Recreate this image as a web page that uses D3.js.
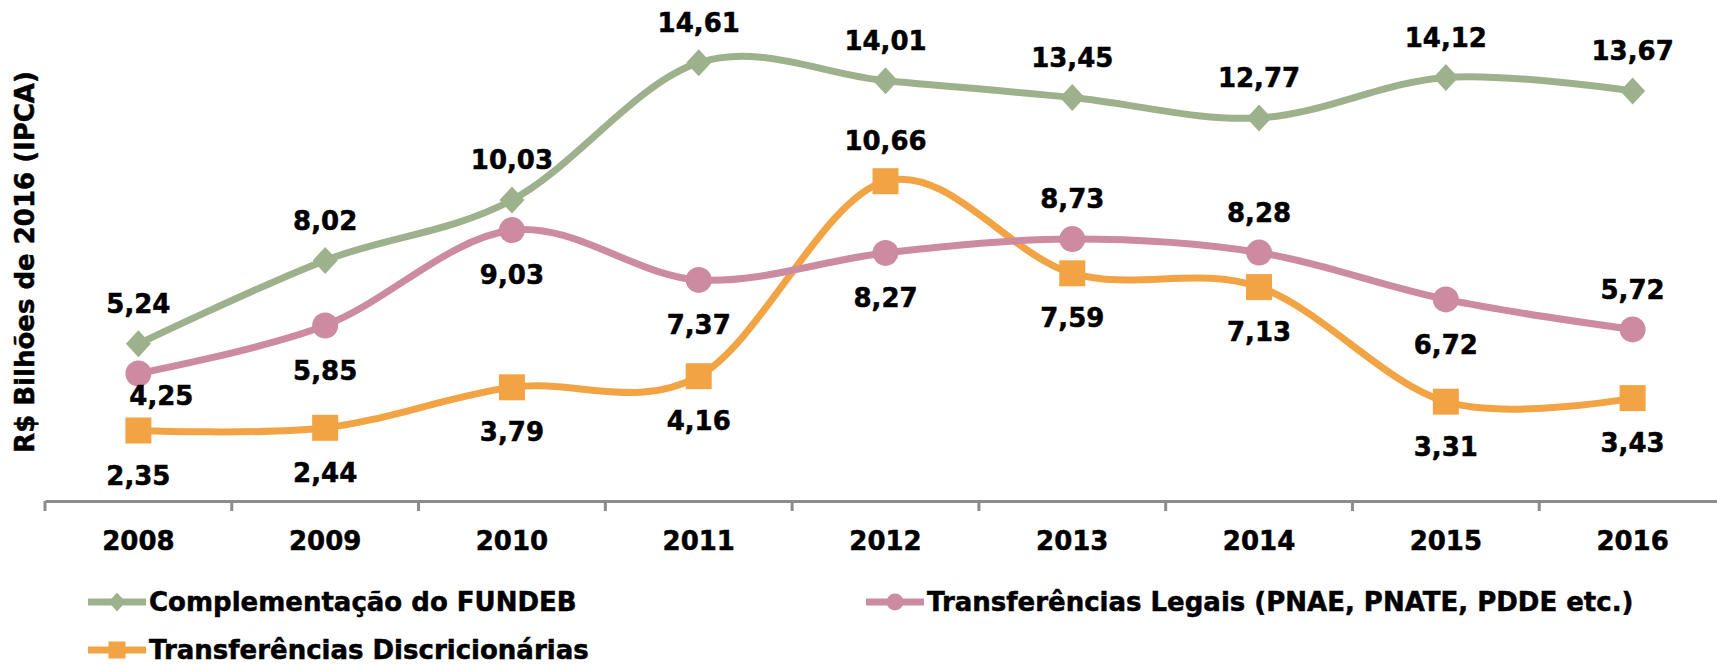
<!DOCTYPE html>
<html>
<head>
<meta charset="utf-8">
<script src="https://cdn.jsdelivr.net/npm/d3@7"></script>
<style>
  body { margin: 0; background: #fff; }
  text { font-family: "DejaVu Sans", sans-serif; font-weight: bold; stroke: #000; stroke-width: 0.5px; }
</style>
</head>
<body>
<div id="chart"></div>
<script>
// data
var years = ["2008", "2009", "2010", "2011", "2012", "2013", "2014", "2015", "2016"];
var fundeb = [5.24, 8.02, 10.03, 14.61, 14.01, 13.45, 12.77, 14.12, 13.67];
var legais = [4.25, 5.85, 9.03, 7.37, 8.27, 8.73, 8.28, 6.72, 5.72];
var discricionarias = [2.35, 2.44, 3.79, 4.16, 10.66, 7.59, 7.13, 3.31, 3.43];
var seriesNames = ["Complementação do FUNDEB", "Transferências Legais (PNAE, PNATE, PDDE etc.)", "Transferências Discricionárias"];
var yTitle = "R$ Bilhões de 2016 (IPCA)";

// where each data label sits (a = above, b = below)
var fundebPos = ["a", "a", "a", "a", "a", "a", "a", "a", "a"];
var legaisPos = ["b", "b", "b", "b", "b", "a", "a", "b", "a"];
var discPos = ["b", "b", "b", "b", "a", "b", "b", "b", "b"];

var W = 1717, H = 665;

var svg = d3.select("#chart")
    .append("svg")
    .attr("width", W)
    .attr("height", H);

var x = d3.scaleBand()
    .domain(years)
    .range([45, 1726]);

var y = d3.scaleLinear()
    .domain([0, 16])
    .range([501, 21]);

var fmt = d3.formatLocale({ decimal: ",", thousands: ".", grouping: [3], currency: ["R$", ""] }).format(".2f");

// x axis (ticks between categories, like excel)
var axis = svg.append("g")
    .attr("transform", "translate(0," + y(0) + ")")
    .call(d3.axisBottom(x).tickSize(0).tickPadding(30));
axis.select(".domain").attr("stroke", "#8c8c8c").attr("stroke-width", 3);
axis.selectAll("text")
    .attr("font-size", "26px")
    .attr("font-family", "DejaVu Sans")
    .attr("font-weight", "bold")
    .attr("fill", "#000")
    .attr("dy", "0.35em")
    .attr("y", 40);

var bounds = years.map(function (d) { return x(d); }).concat([x.range()[1]]);
svg.append("g")
    .selectAll("line")
    .data(bounds)
    .enter().append("line")
    .attr("x1", function (d) { return d; })
    .attr("x2", function (d) { return d; })
    .attr("y1", y(0))
    .attr("y2", y(0) + 10)
    .attr("stroke", "#8c8c8c")
    .attr("stroke-width", 3);

// y title
svg.append("text")
    .attr("transform", "translate(34,262) rotate(-90)")
    .attr("text-anchor", "middle")
    .attr("font-size", "26px")
    .text(yTitle);

var series = [
    { name: seriesNames[0], values: fundeb, pos: fundebPos, color: "#9db28c", shape: "diamond" },
    { name: seriesNames[1], values: legais, pos: legaisPos, color: "#cc8ba0", shape: "circle" },
    { name: seriesNames[2], values: discricionarias, pos: discPos, color: "#f2a444", shape: "square" }
];

var cx = function (i) { return x(years[i]) + x.bandwidth() / 2; };

var line = d3.line()
    .x(function (d, i) { return cx(i); })
    .y(function (d) { return y(d); })
    .curve(d3.curveCatmullRom.alpha(0));

function marker(g, shape, color, size) {
    if (shape === "circle") {
        g.append("circle").attr("r", size / 2).attr("fill", color);
    } else if (shape === "square") {
        g.append("rect")
            .attr("x", -size / 2).attr("y", -size / 2)
            .attr("width", size).attr("height", size)
            .attr("fill", color);
    } else {
        var h = size / 2;
        g.append("path")
            .attr("d", "M0," + (-h - 1) + "L" + h + ",0L0," + (h + 1) + "L" + (-h) + ",0Z")
            .attr("fill", color);
    }
}

// draw from back to front: orange, pink, green
[2, 1, 0].forEach(function (k) {
    var s = series[k];
    svg.append("path")
        .datum(s.values)
        .attr("d", line)
        .attr("fill", "none")
        .attr("stroke", s.color)
        .attr("stroke-width", 7);
});

series.forEach(function (s) {
    s.values.forEach(function (v, i) {
        var g = svg.append("g").attr("transform", "translate(" + cx(i) + "," + y(v) + ")");
        marker(g, s.shape, s.color, s.shape === "diamond" ? 25 : 26);
    });
});

// data labels
series.forEach(function (s, k) {
    svg.append("g")
        .selectAll("text")
        .data(s.values)
        .enter().append("text")
        .attr("x", function (d, i) { return cx(i) + (k === 1 && i === 0 ? 23 : 0); })
        .attr("y", function (d, i) {
            if (s.pos[i] === "a") return y(d) - 40;
            return y(d) + (k === 1 && i === 0 ? 22 : 45);
        })
        .attr("dy", "0.35em")
        .attr("text-anchor", "middle")
        .attr("font-size", "26px")
        .attr("fill", "#000")
        .text(function (d) { return fmt(d); });
});

// legend
var legendPos = [[88, 602], [866, 602], [88, 650]];
series.forEach(function (s, k) {
    var g = svg.append("g").attr("transform", "translate(" + legendPos[k][0] + "," + legendPos[k][1] + ")");
    g.append("line")
        .attr("x1", 0).attr("x2", 58)
        .attr("stroke", s.color)
        .attr("stroke-width", 7);
    var m = g.append("g").attr("transform", "translate(29,0)");
    marker(m, s.shape, s.color, 17);
    g.append("text")
        .attr("x", 61)
        .attr("dy", "0.35em")
        .attr("font-size", "26px")
        .attr("fill", "#000")
        .text(s.name);
});
</script>
</body>
</html>
